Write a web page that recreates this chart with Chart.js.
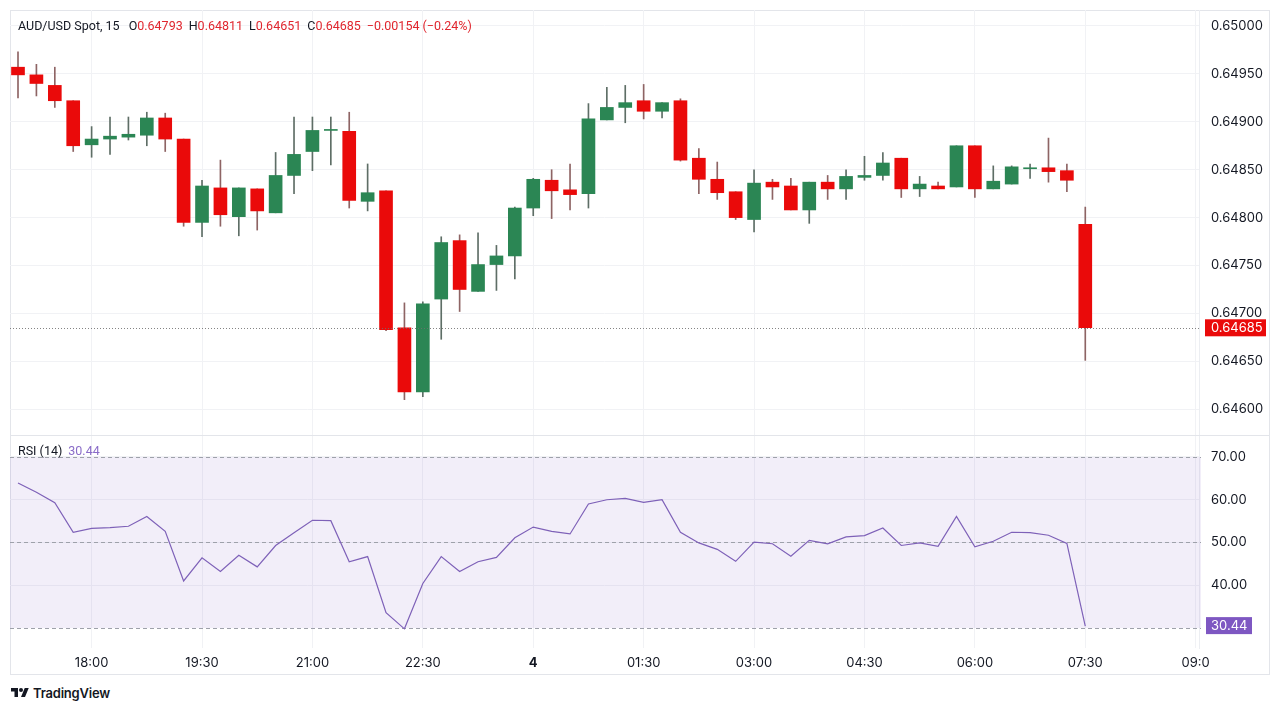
<!DOCTYPE html>
<html><head><meta charset="utf-8">
<script src="https://cdn.jsdelivr.net/npm/chart.js@4.4.1/dist/chart.umd.min.js"></script>
<style>
html,body{margin:0;padding:0;background:#fff;width:1280px;height:710px;overflow:hidden;font-family:Inter,"Noto Sans",sans-serif;}
#frame{position:absolute;left:10px;top:10px;width:1260px;height:665px;border:1px solid #e3e5ea;box-sizing:border-box;}
#sep{position:absolute;left:10px;top:435px;width:1260px;height:1px;background:#e3e5ea;}
canvas{position:absolute;left:10px;}
#cA{top:10px;}
#cB{top:435px;}
.row{position:absolute;display:flex;font-family:Roboto,Inter,sans-serif;font-size:12.5px;color:#131722;white-space:pre;line-height:16px;}
.row span.g{margin-right:6px;}
.r{color:#e0262e;}
.p{color:#8a6cc8;}
#logo{position:absolute;left:10px;top:685px;display:flex;align-items:center;font-size:13px;font-weight:600;color:#131722;letter-spacing:-0.2px;}
</style></head>
<body>
<div id="frame"></div>
<canvas id="cA" width="1260" height="425"></canvas>
<canvas id="cB" width="1260" height="240"></canvas>
<div id="sep"></div>
<div class="row" style="left:18px;top:18px;"><span class="g" style="margin-right:9px">AUD/USD Spot, 15</span><span class="g">O<span class="r">0.64793</span></span><span class="g">H<span class="r">0.64811</span></span><span class="g">L<span class="r">0.64651</span></span><span class="g">C<span class="r">0.64685</span></span><span class="r">−0.00154 (−0.24%)</span></div>
<div class="row" style="left:18px;top:443px;"><span class="g" style="margin-right:6px">RSI (14)</span><span class="p">30.44</span></div>
<div id="logo"><svg width="20" height="14" viewBox="0 0 36 28" style="margin-right:3px"><path d="M14 22H7V11H0V4h14v18zM28 22h-8l7.5-18h8L28 22z" fill="#131722"/><circle cx="20" cy="8" r="4" fill="#131722"/></svg>TradingView</div>
<script>
// ---- data ----
const opens  = [0.64957,0.64949,0.64938,0.64922,0.64876,0.64882,0.64884,0.64886,0.64904,0.64882,
                0.64795,0.64831,0.64801,0.64830,0.64805,0.64844,0.64869,0.64891,0.64890,0.64817,
                0.64828,0.64685,0.64618,0.64715,0.64776,0.64723,0.64751,0.64760,0.64810,0.64839,
                0.64829,0.64825,0.64902,0.64915,0.64922,0.64911,0.64922,0.64862,0.64840,0.64827,
                0.64798,0.64837,0.64833,0.64808,0.64837,0.64830,0.64842,0.64844,0.64862,0.64830,
                0.64833,0.64832,0.64875,0.64830,0.64835,0.64851,0.64852,0.64849,0.64793];
const highs  = [0.64973,0.64960,0.64957,0.64922,0.64895,0.64905,0.64905,0.64910,0.64909,0.64882,
                0.64839,0.64860,0.64831,0.64830,0.64868,0.64905,0.64905,0.64905,0.64910,0.64856,
                0.64828,0.64711,0.64712,0.64780,0.64782,0.64784,0.64771,0.64811,0.64841,0.64850,
                0.64856,0.64919,0.64936,0.64938,0.64939,0.64920,0.64924,0.64872,0.64858,0.64827,
                0.64850,0.64840,0.64841,0.64837,0.64844,0.64850,0.64864,0.64868,0.64862,0.64843,
                0.64837,0.64875,0.64875,0.64854,0.64854,0.64856,0.64883,0.64856,0.64811];
const lows   = [0.64925,0.64927,0.64915,0.64869,0.64863,0.64866,0.64881,0.64875,0.64869,0.64791,
                0.64780,0.64791,0.64781,0.64787,0.64805,0.64825,0.64849,0.64855,0.64810,0.64807,
                0.64682,0.64610,0.64613,0.64673,0.64702,0.64723,0.64724,0.64736,0.64802,0.64799,
                0.64808,0.64810,0.64902,0.64899,0.64903,0.64904,0.64859,0.64825,0.64819,0.64798,
                0.64785,0.64819,0.64808,0.64794,0.64819,0.64819,0.64839,0.64839,0.64821,0.64822,
                0.64830,0.64832,0.64821,0.64830,0.64835,0.64841,0.64837,0.64827,0.64651];
const closes = [0.64949,0.64940,0.64922,0.64875,0.64882,0.64885,0.64887,0.64904,0.64882,0.64795,
                0.64833,0.64803,0.64831,0.64807,0.64844,0.64866,0.64891,0.64891,0.64818,0.64826,
                0.64683,0.64618,0.64710,0.64774,0.64725,0.64751,0.64760,0.64810,0.64840,0.64828,
                0.64824,0.64903,0.64915,0.64920,0.64911,0.64920,0.64860,0.64840,0.64826,0.64800,
                0.64836,0.64832,0.64808,0.64837,0.64830,0.64843,0.64844,0.64857,0.64830,0.64835,
                0.64830,0.64875,0.64830,0.64838,0.64853,0.64851,0.64848,0.64839,0.64685];
const rsiValues = [63.9,61.75,59.3,52.4,53.3,53.5,53.8,56.1,52.6,41.0,
                   46.4,43.2,47.0,44.3,49.3,52.3,55.2,55.1,45.5,46.7,
                   33.6,29.8,40.4,46.7,43.2,45.5,46.5,51.1,53.6,52.6,
                   52.0,59.0,60.0,60.3,59.4,60.0,52.4,49.9,48.4,45.6,
                   50.1,49.7,46.8,50.5,49.7,51.3,51.6,53.4,49.3,49.9,
                   49.1,56.1,49.0,50.3,52.4,52.3,51.7,49.8,30.44];
const timeTickPositions = [4,10,16,22,28,34,40,46,52,58,64];   // bar index of each time label
const timeTickLabels = ['18:00','19:30','21:00','22:30','4','01:30','03:00','04:30','06:00','07:30','09:0'];
const priceTicks = [0.646,0.6465,0.647,0.6475,0.648,0.6485,0.649,0.6495,0.65];
const rsiTicks = [40,50,60,70];
const rsiLevels = [70,50,30];
const lastPrice = 0.64685;
const lastRsi = 30.44;

// ---- style ----
const UP='#2b8654', DOWN='#ea0a0a', WICK_UP='#5e6e66', WICK_DOWN='#8e6464';
const GRID='#f1f2f5', TXT='#131722', FONT='Inter';
const X_MIN=-0.435, X_MAX=64.18;
const isUp = i => closes[i] >= opens[i];

const xScaleBase = {
  type:'linear', min:X_MIN, max:X_MAX, offset:false, bounds:'data',
  afterBuildTicks:s=>{ s.ticks = timeTickPositions.map(v=>({value:v})); },
  grid:{color:GRID, drawTicks:false, offset:false}, border:{display:false}
};
const fitY = s=>{ s.width=71; s.paddingTop=0; s.paddingBottom=0; };

const priceLinePlugin = {
  id:'priceLine',
  afterDatasetsDraw(chart){
    const {ctx, chartArea:a, scales:{y}} = chart;
    const py = Math.round(y.getPixelForValue(lastPrice))+0.5;
    ctx.save();
    ctx.strokeStyle='rgba(110,110,110,0.85)'; ctx.lineWidth=1; ctx.setLineDash([1,2]);
    ctx.beginPath(); ctx.moveTo(a.left,py); ctx.lineTo(a.right,py); ctx.stroke();
    ctx.restore();
  },
  afterDraw(chart){
    const {ctx, chartArea:a, scales:{y}} = chart;
    const py = y.getPixelForValue(lastPrice);
    ctx.save();
    ctx.fillStyle=DOWN; ctx.fillRect(a.right+6, py-8.5, 61, 17);
    ctx.fillStyle='#fff'; ctx.font='13px '+FONT; ctx.textBaseline='middle'; ctx.textAlign='left';
    ctx.fillText(lastPrice.toFixed(5), a.right+12, py+0.5);
    ctx.restore();
  }
};

new Chart(document.getElementById('cA'), {
  type:'bar',
  data:{datasets:[
    {label:'body', order:0, grouped:false, barThickness:13, minBarLength:1, borderWidth:0, borderSkipped:false,
     data:opens.map((o,i)=>({x:i, y:[o, closes[i]]})),
     backgroundColor:ctx=>isUp(ctx.dataIndex)?UP:DOWN},
    {label:'wick', order:1, grouped:false, barThickness:1, borderWidth:0, borderSkipped:false,
     data:lows.map((l,i)=>({x:i, y:[l, highs[i]]})),
     backgroundColor:ctx=>isUp(ctx.dataIndex)?WICK_UP:WICK_DOWN}
  ]},
  options:{
    responsive:false, animation:false, events:[],
    layout:{padding:0, autoPadding:false},
    plugins:{legend:{display:false}, tooltip:{enabled:false}},
    scales:{
      x:Object.assign({}, xScaleBase, {ticks:{display:false}, afterFit:s=>{s.height=0; s.paddingLeft=0; s.paddingRight=0;}}),
      y:{position:'right', min:0.645731, max:0.650167,
         afterBuildTicks:s=>{ s.ticks = priceTicks.map(v=>({value:v})); },
         ticks:{callback:v=>Number(v).toFixed(5), padding:12, color:TXT, font:{family:FONT,size:13}},
         grid:{color:GRID, drawTicks:false}, border:{display:true, color:'#eceef2'},
         afterFit:fitY}
    }
  },
  plugins:[priceLinePlugin]
});

const rsiPlugin = {
  id:'rsiBand',
  beforeDatasetsDraw(chart){
    const {ctx, chartArea:a, scales:{y}} = chart;
    const y70=y.getPixelForValue(70), y30=y.getPixelForValue(30);
    ctx.save();
    ctx.fillStyle='rgba(126,87,194,0.1)';
    ctx.fillRect(a.left, y70, a.right-a.left+2, y30-y70);
    ctx.strokeStyle='#9ea1aa'; ctx.lineWidth=1; ctx.setLineDash([4,3]);
    rsiLevels.forEach(l=>{
      const py=Math.round(y.getPixelForValue(l))+0.5;
      ctx.beginPath(); ctx.moveTo(a.left,py); ctx.lineTo(a.right+2,py); ctx.stroke();
    });
    ctx.restore();
  },
  afterDraw(chart){
    const {ctx, chartArea:a, scales:{y}} = chart;
    const py = y.getPixelForValue(lastRsi);
    ctx.save();
    ctx.fillStyle='#7e57c2'; ctx.fillRect(a.right+7, py-9, 46, 17);
    ctx.fillStyle='#fff'; ctx.font='13px '+FONT; ctx.textBaseline='middle'; ctx.textAlign='left';
    ctx.fillText(lastRsi.toFixed(2), a.right+12, py);
    ctx.restore();
  }
};

new Chart(document.getElementById('cB'), {
  type:'line',
  data:{datasets:[
    {label:'RSI', data:rsiValues.map((v,i)=>({x:i,y:v})), borderColor:'#7e61b8', borderWidth:1.2,
     pointRadius:0, tension:0, fill:false}
  ]},
  options:{
    responsive:false, animation:false, events:[],
    layout:{padding:{top:1}, autoPadding:false},
    plugins:{legend:{display:false}, tooltip:{enabled:false}},
    scales:{
      x:Object.assign({}, xScaleBase, {
        ticks:{autoSkip:false, maxRotation:0, padding:7, color:TXT,
               callback:(v,i)=>timeTickLabels[timeTickPositions.indexOf(v)],
               font:ctx=>({family:FONT, size:13, weight: (ctx.tick && ctx.tick.value===28)?'bold':'normal'})},
        afterFit:s=>{s.height=27; s.paddingLeft=0; s.paddingRight=0;}}),
      y:{position:'right', min:25.32, max:74.91,
         afterBuildTicks:s=>{ s.ticks = rsiTicks.map(v=>({value:v})); },
         ticks:{callback:v=>Number(v).toFixed(2), padding:12, color:TXT, font:{family:FONT,size:13}},
         grid:{color:GRID, drawTicks:false}, border:{display:true, color:'#eceef2'},
         afterFit:fitY}
    }
  },
  plugins:[rsiPlugin]
});
</script>
</body></html>
